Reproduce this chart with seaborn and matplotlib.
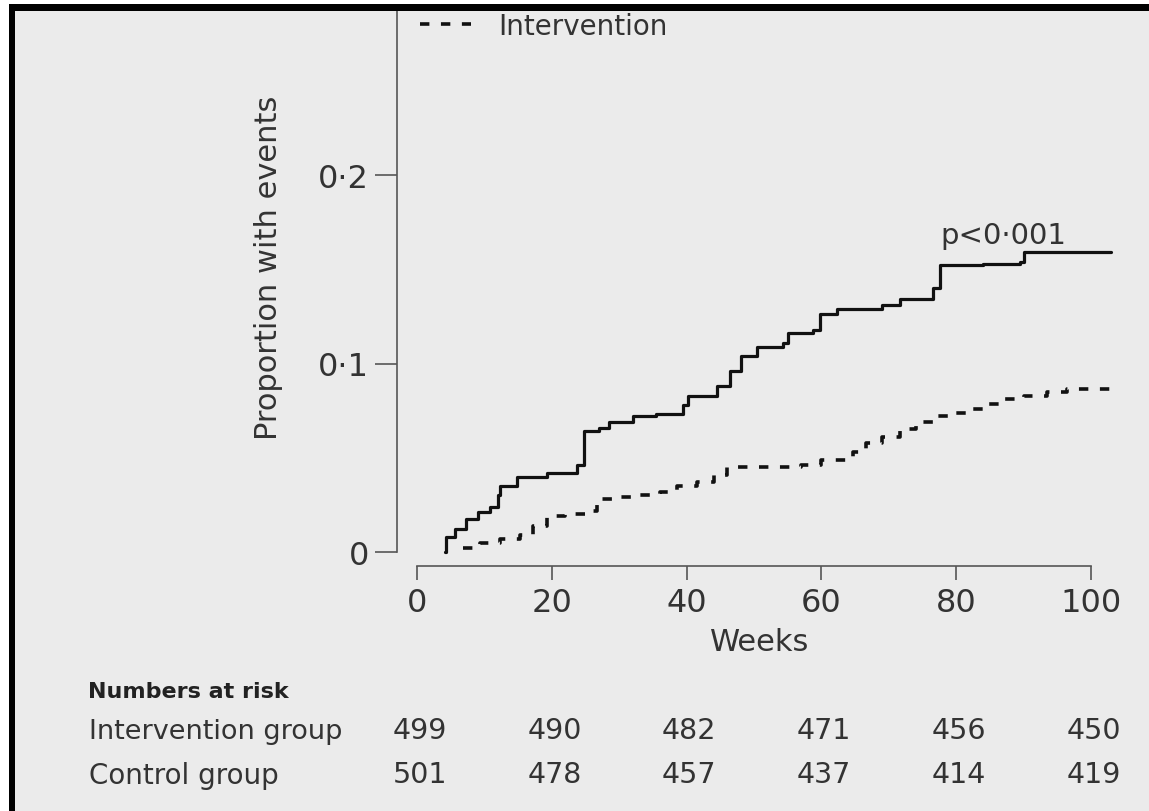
import numpy as np
import pandas as pd
import matplotlib
matplotlib.use("Agg")
import matplotlib.pyplot as plt
import seaborn as sns
from matplotlib.patches import Rectangle

# curve values (weeks, cumulative proportion with events)
control_weeks = [4.2, 4.3, 5.7, 7.2, 9.0, 10.9, 12.0, 12.3, 14.8, 19.3, 23.7, 24.8, 27.0, 28.5,
                 32.0, 35.5, 39.5, 40.2, 44.5, 46.5, 48.0, 50.5, 54.3, 55.0, 58.8, 59.8, 62.3,
                 69.0, 71.6, 76.6, 77.6, 84.0, 89.5, 90.0, 103.0]
control_prop = [0.0, 0.008, 0.012, 0.0175, 0.021, 0.024, 0.030, 0.035, 0.040, 0.042, 0.046, 0.064,
                0.066, 0.069, 0.072, 0.073, 0.078, 0.083, 0.088, 0.096, 0.104, 0.109, 0.111, 0.116,
                0.118, 0.126, 0.129, 0.131, 0.134, 0.140, 0.152, 0.153, 0.154, 0.159, 0.159]

interv_weeks = [6.8, 9.3, 12.3, 15.3, 17.2, 19.3, 22.0, 25.2, 26.7, 29.7, 33.0, 36.0, 38.6, 41.5,
                44.0, 46.0, 57.0, 60.0, 64.7, 66.6, 69.0, 71.6, 74.0, 76.6, 79.0, 82.0, 84.6,
                87.2, 90.0, 93.5, 96.4, 103.0]
interv_prop = [0.002, 0.005, 0.007, 0.009, 0.014, 0.019, 0.020, 0.022, 0.028, 0.029, 0.030, 0.032,
               0.035, 0.037, 0.041, 0.045, 0.046, 0.049, 0.053, 0.058, 0.061, 0.065, 0.069, 0.072,
               0.074, 0.076, 0.0785, 0.081, 0.083, 0.085, 0.0865, 0.0865]

# axis ticks
x_ticks = [0, 20, 40, 60, 80, 100]
y_ticks = [0, 0.1, 0.2]
y_tick_labels = ["0", "0·1", "0·2"]

# numbers at risk table
risk_weeks = [0, 20, 40, 60, 80, 100]
risk_intervention = [499, 490, 482, 471, 456, 450]
risk_control = [501, 478, 457, 437, 414, 419]

sns.set_theme(style="white")
plt.rcParams["font.family"] = ["DejaVu Sans"]

W, H = 1149, 812
fig = plt.figure(figsize=(W / 100, H / 100), dpi=100, facecolor="white")

# paper background and the black scan border (left and top)
fig.add_artist(Rectangle((9 / W, 0), 1 - 9 / W, 1 - 5 / H, transform=fig.transFigure,
                         facecolor="#ebebeb", edgecolor="none", zorder=-10))
fig.add_artist(Rectangle((9 / W, 0), 6 / W, 1 - 5 / H, transform=fig.transFigure,
                         facecolor="black", edgecolor="none", zorder=10))
fig.add_artist(Rectangle((9 / W, 1 - 12 / H), 1 - 9 / W, 7 / H, transform=fig.transFigure,
                         facecolor="black", edgecolor="none", zorder=10))

# axes placed in pixel terms: left spine at x=397, bottom spine at y=567
ax_l, ax_r, ax_t, ax_b = 397, 1140, 12, 567
ax = fig.add_axes([ax_l / W, 1 - ax_b / H, (ax_r - ax_l) / W, (ax_b - ax_t) / H])
ax.set_facecolor("none")

# pixel scale of the original: week 0 at x=417, proportion 0 at y=553
px_week = 6.74
px_unit = 1885.0
ax.set_xlim(-(417 - ax_l) / px_week, (ax_r - 417) / px_week)
ax.set_ylim(-(ax_b - 553) / px_unit, (553 - ax_t) / px_unit)

df_c = pd.DataFrame({"week": control_weeks, "prop": control_prop})
df_i = pd.DataFrame({"week": interv_weeks, "prop": interv_prop})

sns.lineplot(data=df_c, x="week", y="prop", ax=ax, color="#111111", lw=2.3,
             drawstyle="steps-post", estimator=None, label="Control")
sns.lineplot(data=df_i, x="week", y="prop", ax=ax, color="#111111", lw=2.6,
             drawstyle="steps-post", estimator=None, linestyle=(0, (2.6, 3.2)),
             label="Intervention")

# spines like the journal figure: separate x and y axis
for s in ["top", "right"]:
    ax.spines[s].set_visible(False)
for s in ["left", "bottom"]:
    ax.spines[s].set_color("#555555")
    ax.spines[s].set_linewidth(1.2)
ax.spines["left"].set_bounds(0, (553 - ax_t) / px_unit)
ax.spines["bottom"].set_bounds(0, 100)

ax.set_xticks(x_ticks)
ax.set_yticks(y_ticks)
ax.set_yticklabels(y_tick_labels)
ax.tick_params(axis="x", direction="out", length=10, width=1.2, color="#555555",
               labelsize=23, labelcolor="#333333", pad=5, bottom=True)
ax.tick_params(axis="y", direction="out", length=16, width=1.2, color="#555555",
               labelsize=23, labelcolor="#333333", pad=4, left=True)

ax.set_xlabel("Weeks", fontsize=22, color="#333333")
ax.xaxis.set_label_coords((760 - ax_l) / (ax_r - ax_l), -(628 - ax_b) / (ax_b - ax_t))
ax.xaxis.label.set_va("top")
ax.set_ylabel("Proportion with events", fontsize=22, color="#333333")
ax.yaxis.set_label_coords(-(ax_l - 283) / (ax_r - ax_l), (ax_b - 268) / (ax_b - ax_t))

ax.text((940 - 417) / px_week, 0.161, "p<0·001", fontsize=21, color="#333333",
        ha="left", va="bottom")

# legend: only the intervention entry is visible in the cropped scan
handles, labels = ax.get_legend_handles_labels()
ax.legend(handles=[handles[1]], labels=[labels[1]], loc="center left",
          bbox_to_anchor=(420 / W, 1 - 27 / H), bbox_transform=fig.transFigure,
          frameon=False, fontsize=20, handlelength=1.85, handletextpad=0.95,
          borderpad=0, borderaxespad=0, labelcolor="#333333")

# numbers at risk table below the axis
fig.text(88 / W, 1 - 692 / H, "Numbers at risk", fontsize=16, fontweight="bold",
         color="#222222", ha="left", va="center")
fig.text(89 / W, 1 - 732 / H, "Intervention group", fontsize=19.5, color="#333333",
         ha="left", va="center")
fig.text(89 / W, 1 - 776 / H, "Control group", fontsize=20, color="#333333",
         ha="left", va="center")
trans = matplotlib.transforms.blended_transform_factory(ax.transData, fig.transFigure)
for w, ni, nc in zip(risk_weeks, risk_intervention, risk_control):
    ax.text(w + 0.4, 1 - 731 / H, str(ni), transform=trans, fontsize=20.5, color="#333333",
            ha="center", va="center", clip_on=False)
    ax.text(w + 0.4, 1 - 775 / H, str(nc), transform=trans, fontsize=20.5, color="#333333",
            ha="center", va="center", clip_on=False)

fig.savefig("out.png", dpi=100, facecolor=fig.get_facecolor())
